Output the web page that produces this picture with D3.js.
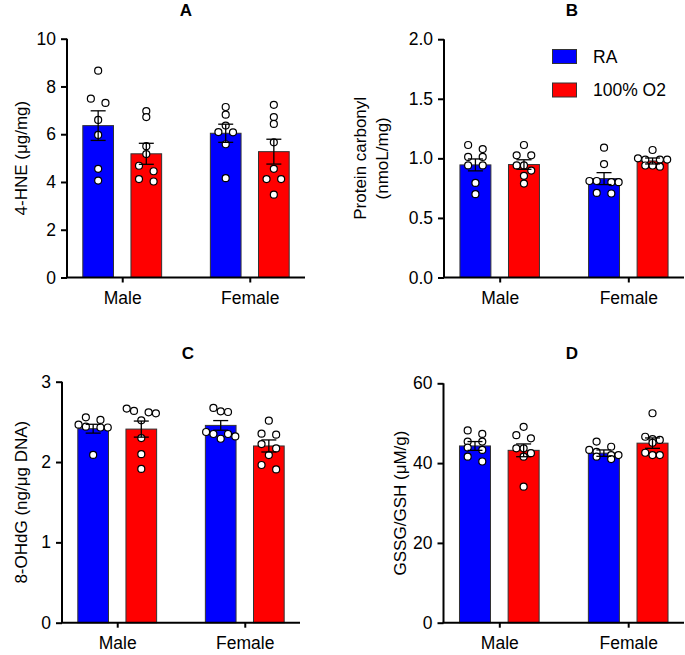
<!DOCTYPE html>
<html>
<head>
<meta charset="utf-8">
<script src="https://cdn.jsdelivr.net/npm/d3@7"></script>
<style>
  body { margin: 0; background: #fff; }
  text { font-family: "Liberation Sans", Arial, Helvetica, sans-serif; fill: #000; }
</style>
</head>
<body>
<svg id="chart" width="685" height="655"></svg>
<script>
// ---------- data ----------
const categories = ["Male", "Female"];
const series = ["RA", "100% O2"];

// Panel A: 4-HNE (µg/mg)
const hneMeanRA = [6.36, 6.04];
const hneMeanO2 = [5.18, 5.27];
const hneSemRA = [0.62, 0.38];
const hneSemO2 = [0.44, 0.52];
const hnePtsMaleRA = [8.66, 7.31, 7.49, 6.60, 5.97, 4.55, 4.06];
const hnePtsMaleO2 = [6.72, 6.97, 5.50, 5.17, 4.68, 4.45, 4.12, 4.02];
const hnePtsFemaleRA = [7.14, 6.82, 6.36, 6.09, 6.08, 5.58, 4.16];
const hnePtsFemaleO2 = [7.23, 6.72, 6.43, 5.66, 4.55, 4.12, 4.12, 3.47];
const hneTicks = [0, 2, 4, 6, 8, 10];

// Panel B: Protein carbonyl (nmoL/mg)
const pcMeanRA = [0.945, 0.83];
const pcMeanO2 = [0.948, 0.978];
const pcSemRA = [0.05, 0.05];
const pcSemO2 = [0.04, 0.025];
const pcPtsMaleRA = [1.078, 1.112, 1.012, 1.012, 0.941, 0.941, 0.794, 0.699];
const pcPtsMaleO2 = [1.112, 1.025, 1.025, 0.941, 0.941, 0.897, 0.853, 0.788];
const pcPtsFemaleRA = [1.09, 0.952, 0.80, 0.81, 0.81, 0.80, 0.705, 0.71];
const pcPtsFemaleO2 = [1.07, 0.99, 0.99, 0.99, 1.0, 0.93, 0.94, 0.94];
const pcTicks = [0, 0.5, 1.0, 1.5, 2.0];

// Panel C: 8-OHdG (ng/µg DNA)
const ohdgMeanRA = [2.415, 2.456];
const ohdgMeanO2 = [2.41, 2.20];
const ohdgSemRA = [0.055, 0.06];
const ohdgSemO2 = [0.10, 0.075];
const ohdgPtsMaleRA = [2.465, 2.44, 2.43, 2.43, 2.556, 2.524, 2.089];
const ohdgPtsMaleO2 = [2.665, 2.619, 2.636, 2.606, 2.519, 2.298, 2.098, 1.914];
const ohdgPtsFemaleRA = [2.673, 2.623, 2.631, 2.319, 2.374, 2.349, 2.349, 2.29];
const ohdgPtsFemaleO2 = [2.515, 2.34, 2.353, 2.224, 2.17, 2.087, 1.908, 1.963];
const ohdgTicks = [0, 1, 2, 3];

// Panel D: GSSG/GSH (µM/g)
const gsMeanRA = [44.3, 42.5];
const gsMeanO2 = [43.2, 45.0];
const gsSemRA = [1.1, 0.8];
const gsSemO2 = [1.6, 1.3];
const gsPtsMaleRA = [45.4, 47.3, 48.2, 45.4, 43.3, 43.9, 41.6, 40.4];
const gsPtsMaleO2 = [47.0, 49.1, 46.2, 43.7, 43.7, 41.6, 42.5, 34.1];
const gsPtsFemaleRA = [41.6, 44.1, 45.4, 43.3, 41.0, 42.0, 42.0, 42.8];
const gsPtsFemaleO2 = [52.5, 46.6, 46.0, 45.1, 45.8, 42.0, 42.6, 42.0];
const gsTicks = [0, 20, 40, 60];

// ---------- layout ----------
const colors = { "RA": "#0000ff", "100% O2": "#ff0000" };
const FONT = '"Liberation Sans", Arial, Helvetica, sans-serif';
const svg = d3.select("#chart");

const panels = [
  { title: "A", tx: 186, ty: 16, left: 67, right: 305, top: 38.7, bottom: 277.5,
    max: 10, ticks: hneTicks, fmt: d3.format("d"), label: ["4-HNE (\u03bcg/mg)"], lx: 21,
    mean: [hneMeanRA, hneMeanO2], sem: [hneSemRA, hneSemO2],
    pts: [[hnePtsMaleRA, hnePtsMaleO2], [hnePtsFemaleRA, hnePtsFemaleO2]] },
  { title: "B", tx: 572, ty: 16, left: 444, right: 684, top: 39.2, bottom: 277.5,
    max: 2, ticks: pcTicks, fmt: d3.format(".1f"), label: ["Protein carbonyl", "(nmoL/mg)"], lx: 360,
    mean: [pcMeanRA, pcMeanO2], sem: [pcSemRA, pcSemO2],
    pts: [[pcPtsMaleRA, pcPtsMaleO2], [pcPtsFemaleRA, pcPtsFemaleO2]], legend: true },
  { title: "C", tx: 188, ty: 359, left: 62, right: 300, top: 381.7, bottom: 622.7,
    max: 3, ticks: ohdgTicks, fmt: d3.format("d"), label: ["8-OHdG (ng/\u03bcg DNA)"], lx: 21,
    mean: [ohdgMeanRA, ohdgMeanO2], sem: [ohdgSemRA, ohdgSemO2],
    pts: [[ohdgPtsMaleRA, ohdgPtsMaleO2], [ohdgPtsFemaleRA, ohdgPtsFemaleO2]] },
  { title: "D", tx: 572, ty: 359, left: 443.5, right: 684, top: 383.3, bottom: 622.7,
    max: 60, ticks: gsTicks, fmt: d3.format("d"), label: ["GSSG/GSH (\u03bcM/g)"], lx: 400,
    mean: [gsMeanRA, gsMeanO2], sem: [gsSemRA, gsSemO2],
    pts: [[gsPtsMaleRA, gsPtsMaleO2], [gsPtsFemaleRA, gsPtsFemaleO2]] }
];

// simple GraphPad-like scatter layout: group near-equal rows, spread symmetrically
function swarm(values, y, cx, d, thr) {
  const items = values.map(v => ({ v, y: y(v) })).sort((a, b) => a.y - b.y);
  const out = [];
  let row = [];
  const flush = () => {
    const n = row.length;
    row.forEach((p, i) => {
      let off;
      if (n % 2 === 1) off = (i - (n - 1) / 2) * d;
      else { const k = i - n / 2; off = (k < 0 ? k : k + 1) * d; }
      out.push({ x: cx + off, y: p.y });
    });
    row = [];
  };
  items.forEach(p => {
    if (row.length && p.y - row[0].y > thr) flush();
    row.push(p);
  });
  if (row.length) flush();
  return out;
}

panels.forEach(P => {
  const g = svg.append("g");
  const y = d3.scaleLinear().domain([0, P.max]).range([P.bottom, P.top]);
  const x = d3.scalePoint().domain(categories).range([P.left, P.right]).padding(0.433);
  const step = x.step();
  const inner = d3.scaleBand().domain(series)
    .range([-0.309 * step, 0.309 * step]).paddingInner(0.3625);
  const bw = inner.bandwidth();

  // bars
  categories.forEach((c, ci) => {
    series.forEach((s, si) => {
      const m = P.mean[si][ci];
      g.append("rect")
        .attr("x", x(c) + inner(s)).attr("y", y(m))
        .attr("width", bw).attr("height", y(0) - y(m))
        .attr("fill", colors[s]).attr("stroke", "#333").attr("stroke-width", 1);
    });
  });

  // points
  categories.forEach((c, ci) => {
    series.forEach((s, si) => {
      const cx = x(c) + inner(s) + bw / 2;
      const pts = swarm(P.pts[ci][si], y, cx, 7.3, 5.5);
      g.selectAll(null).data(pts).enter().append("circle")
        .attr("cx", d => d.x).attr("cy", d => d.y).attr("r", 3.5)
        .attr("fill", "#fff").attr("stroke", "#000").attr("stroke-width", 1.2);
    });
  });

  // error bars
  categories.forEach((c, ci) => {
    series.forEach((s, si) => {
      const cx = x(c) + inner(s) + bw / 2;
      const m = P.mean[si][ci], e = P.sem[si][ci];
      const eg = g.append("g").attr("stroke", "#000").attr("stroke-width", 1.3);
      eg.append("line").attr("x1", cx).attr("x2", cx).attr("y1", y(m - e)).attr("y2", y(m + e));
      eg.append("line").attr("x1", cx - 7.5).attr("x2", cx + 7.5).attr("y1", y(m + e)).attr("y2", y(m + e));
      eg.append("line").attr("x1", cx - 7.5).attr("x2", cx + 7.5).attr("y1", y(m - e)).attr("y2", y(m - e));
    });
  });

  // y axis
  const ya = g.append("g").attr("transform", `translate(${P.left},0)`)
    .call(d3.axisLeft(y).tickValues(P.ticks).tickFormat(P.fmt).tickSize(6).tickPadding(5));
  ya.select(".domain").attr("stroke-width", 2).attr("d", `M0,${P.top}V${P.bottom}`);
  ya.selectAll(".tick line").attr("stroke-width", 2);
  ya.selectAll(".tick text").attr("font-size", 17.5).attr("font-family", FONT);

  // x axis
  const xa = g.append("g").attr("transform", `translate(0,${P.bottom})`)
    .call(d3.axisBottom(x).tickSize(5).tickPadding(9));
  xa.select(".domain").attr("stroke-width", 2).attr("d", `M${P.left - 1},0H${P.right}`);
  xa.selectAll(".tick line").attr("stroke-width", 2);
  xa.selectAll(".tick text").attr("font-size", 17.5).attr("font-family", FONT);

  // axis label
  const cy = (P.top + P.bottom) / 2;
  const lab = g.append("text").attr("transform", `translate(${P.lx},${cy}) rotate(-90)`)
    .attr("text-anchor", "middle").attr("font-size", 17);
  P.label.forEach((t, i) => {
    lab.append("tspan").attr("x", 0).attr("dy", i === 0 ? "0.35em" : "1.3em").text(t);
  });

  // title
  g.append("text").attr("x", P.tx).attr("y", P.ty).attr("text-anchor", "middle")
    .attr("font-size", 17).attr("font-weight", "bold").text(P.title);

  // legend
  if (P.legend) {
    series.forEach((s, i) => {
      const ly = 49.5 + i * 33.5;
      g.append("rect").attr("x", 552.5).attr("y", ly).attr("width", 24).attr("height", 14)
        .attr("fill", colors[s]).attr("stroke", "#333").attr("stroke-width", 1);
      g.append("text").attr("x", 593).attr("y", ly + 13).attr("font-size", 17.5).text(s);
    });
  }
});
</script>
</body>
</html>
